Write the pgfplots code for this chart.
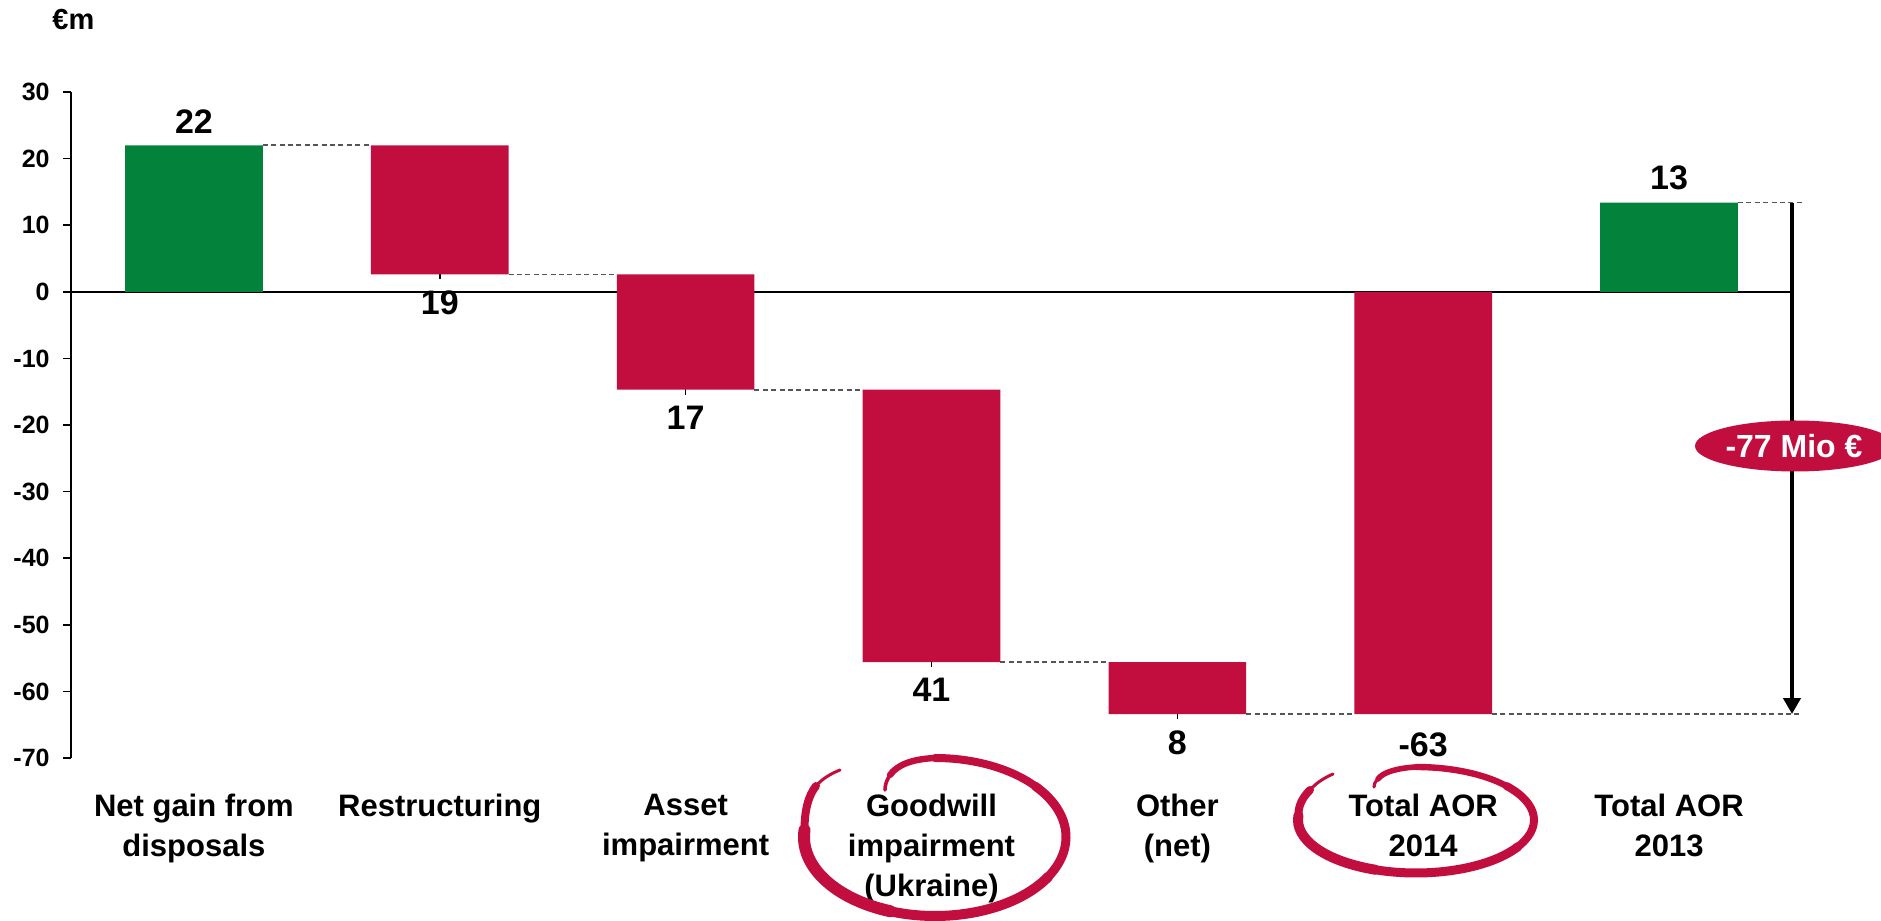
\documentclass[border=0pt]{standalone}
\usepackage{pgfplots}
\pgfplotsset{compat=1.18}
\usepackage{pgfplotstable}
\usetikzlibrary{arrows.meta}
\usepackage{fontspec}
\setmainfont{Liberation Sans}

\definecolor{aorred}{RGB}{194,14,62}
\definecolor{aorgreen}{RGB}{2,130,58}
\definecolor{connector}{RGB}{85,85,85}

% Waterfall of adjustments to operating result (EUR m):
% an invisible base, then the visible green or red span stacked on it
\pgfplotstableread{
x  base   green  red
0  0      22.0   0
1  2.6    0      19.4
2  -14.7  0      17.3
3  -55.6  0      40.9
4  -63.4  0      7.8
5  0      0      -63.4
6  0      13.4   0
}\aortable

\tikzset{
  vlabel/.style={font=\bfseries\fontsize{17}{17}\selectfont, inner sep=0pt},
  conn/.style={connector, line width=0.8pt, dash pattern=on 2.5pt off 1.7pt},
  stub/.style={black, line width=0.75pt},
}

% one stretch of an elliptic arc: [options]{cx}{cy}{rx}{ry}{from}{to}
\newcommand\loopseg[7][]{%
  \draw[aorred, line cap=round, #1] ([shift={(#2,#3)}]#6:#4 and #5)
    arc[start angle=#6, end angle=#7, x radius=#4, y radius=#5];}

\begin{document}
\begin{tikzpicture}
\begin{axis}[
  at={(0pt,0pt)}, anchor=south west,
  scale only axis, width=860.5pt, height=333pt,
  xmin=-0.5, xmax=6.5, ymin=-70, ymax=30,
  ybar stacked, stack negative=on previous, bar width=0.56,
  axis y line*=left, axis x line*=bottom,
  x axis line style={draw=none},
  y axis line style={line width=0.8pt},
  xtick={0,...,6},
  xticklabels={{Net gain from\\disposals}, Restructuring, {Asset\\impairment},
    {Goodwill\\impairment\\(Ukraine)}, {Other\\(net)}, {Total AOR\\2014}, {Total AOR\\2013}},
  major x tick style={draw=none},
  ytick={-70,-60,...,30},
  tick align=outside, major tick length=4pt,
  ytick style={black, line width=0.8pt},
  clip=false,
  /pgf/number format/assume math mode=true,
  yticklabel style={font=\bfseries\fontsize{12.5}{12.5}\selectfont, inner sep=0pt, anchor=east, xshift=-6.5pt},
  xticklabel style={font=\bfseries\fontsize{15.5}{19.8}\selectfont, align=center, anchor=north, inner sep=0pt, yshift=-14pt},
]
\addplot[draw=none, fill=none, forget plot] table[x=x, y=base] {\aortable};
\addplot[draw=none, fill=aorgreen] table[x=x, y=green] {\aortable};
\addplot[draw=none, fill=aorred] table[x=x, y=red] {\aortable};

% zero line
\draw[black, line width=0.75pt] (axis cs:-0.5,0) -- (axis cs:6.5,0);

% dashed connectors between consecutive bars
\draw[conn] (axis cs:0.28,22) -- (axis cs:0.72,22);
\draw[conn] (axis cs:1.28,2.6) -- (axis cs:1.72,2.6);
\draw[conn] (axis cs:2.28,-14.7) -- (axis cs:2.72,-14.7);
\draw[conn] (axis cs:3.28,-55.6) -- (axis cs:3.72,-55.6);
\draw[conn] (axis cs:4.28,-63.4) -- (axis cs:4.72,-63.4);
\draw[conn] (axis cs:5.28,-63.4) -- (axis cs:6.54,-63.4);
\draw[conn] (axis cs:6.28,13.4) -- (axis cs:6.54,13.4);

% small stubs at the lower edge of the red steps
\draw[stub] (axis cs:1,5.0) -- (axis cs:1,1.85);
\draw[stub] (axis cs:2,-12.3) -- (axis cs:2,-15.45);
\draw[stub] (axis cs:3,-53.2) -- (axis cs:3,-56.35);
\draw[stub] (axis cs:4,-61.0) -- (axis cs:4,-64.15);

% difference 2013 -> 2014
\draw[black, line width=2pt, -{Triangle[width=8.5pt,length=8pt]}]
  (axis cs:6.5,13.4) -- (axis cs:6.5,-63.4);

% value labels
\node[vlabel, anchor=base, yshift=6pt] at (axis cs:0,22) {22};
\node[vlabel, anchor=north, fill=white, inner xsep=3pt, yshift=-8pt] at (axis cs:1,2.6) {19};
\node[vlabel, anchor=north, yshift=-8pt] at (axis cs:2,-14.7) {17};
\node[vlabel, anchor=north, yshift=-8pt] at (axis cs:3,-55.6) {41};
\node[vlabel, anchor=north, yshift=-8pt] at (axis cs:4,-63.4) {8};
\node[vlabel, anchor=north, yshift=-9pt] at (axis cs:5,-63.4) {-63};
\node[vlabel, anchor=base, yshift=6.5pt] at (axis cs:6,13.4) {13};
\end{axis}

% page frame, 1 unit = 0.5pt, origin at the lower left corner of the page
\begin{scope}[x=0.5pt, y=0.5pt, shift={(-35.5pt,-81.5pt)}]
  % unit
  \node[anchor=base west, inner sep=0pt, font=\bfseries\fontsize{14.5}{14.5}\selectfont] at (52,891) {€m};

  % difference badge
  \fill[aorred] (1795,475) ellipse[x radius=100, y radius=25.5];
  \node[text=white, inner sep=0pt, font=\bfseries\fontsize{16}{16}\selectfont] at (1794,475) {-77 Mio €};

  % hand-drawn loop round the goodwill label
  \draw[aorred, line cap=round, line width=1.5pt] (840,151) .. controls (830,147) and (822,142) .. (816,135);
  \draw[aorred, line cap=round, line width=4pt] (816,135) .. controls (808,125) and (804.5,110) .. (804.5,91);
  \loopseg[line width=6pt]{935}{84}{131}{79}{175}{250}
  \loopseg[line width=5pt]{935}{84}{131}{79}{248}{330}
  \loopseg[line width=4.5pt]{935}{84}{131}{79}{328}{400}
  \loopseg[line width=4pt]{935}{84}{131}{79}{398}{450}
  \draw[aorred, line cap=round, line width=3.2pt] (935,163) .. controls (912,162) and (897,156) .. (890,146);
  \draw[aorred, line cap=round, line width=1.8pt] (890,146) .. controls (886,140) and (885,135) .. (885,131);

  % hand-drawn loop round the 2014 total
  \draw[aorred, line cap=round, line width=1.5pt] (1333,147) .. controls (1324,143) and (1316,138) .. (1310,131);
  \draw[aorred, line cap=round, line width=4pt] (1310,131) .. controls (1302,123) and (1298.4,115) .. (1298.4,106);
  \loopseg[line width=5pt]{1416}{101}{118}{53}{175}{250}
  \loopseg[line width=4.5pt]{1416}{101}{118}{53}{248}{330}
  \loopseg[line width=4pt]{1416}{101}{118}{53}{328}{400}
  \loopseg[line width=3.2pt]{1416}{101}{118}{53}{398}{450}
  \draw[aorred, line cap=round, line width=2.8pt] (1416,154) .. controls (1398,153) and (1383,149) .. (1378,142);
  \draw[aorred, line cap=round, line width=1.6pt] (1378,142) .. controls (1375,139) and (1374,137) .. (1374,134);

  % the page is exactly this frame
  \pgfresetboundingbox
  \useasboundingbox (0,0) rectangle (1881,921);
\end{scope}
\end{tikzpicture}
\end{document}
